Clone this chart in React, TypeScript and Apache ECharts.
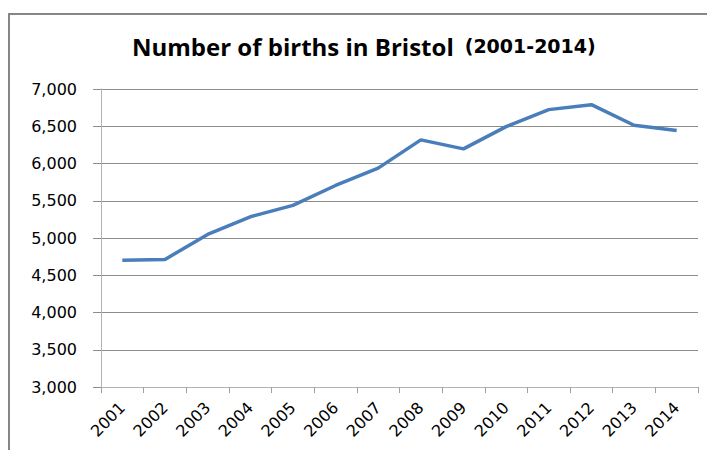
import React, { useEffect, useRef } from "react";
import * as echarts from "echarts";

const categories = ["2001", "2002", "2003", "2004", "2005", "2006", "2007", "2008", "2009", "2010", "2011", "2012", "2013", "2014"];
const births = [4700, 4712, 5048, 5285, 5438, 5705, 5938, 6317, 6196, 6495, 6723, 6790, 6513, 6442];
const yTicks = { min: 3000, max: 7000, interval: 500 };
const titleMain = "Number of births in Bristol";
const titleSub = "(2001-2014)";

export default function App() {
  const ref = useRef<HTMLDivElement>(null);
  useEffect(() => {
    if (!ref.current) return;
    const chart = echarts.init(ref.current, null, { renderer: "svg" });
    const font = "Open Sans";
    const labelFont = "DejaVu Sans";
    chart.setOption({
      animation: false,
      backgroundColor: "#ffffff",
      title: {
        text: `{a|${titleMain}} {b|${titleSub}}`,
        left: 127,
        top: 29,
        textStyle: {
          rich: {
            a: { fontFamily: font, fontWeight: "bold", fontSize: 24, color: "#000" },
            b: { fontFamily: labelFont, fontWeight: "bold", fontSize: 19, color: "#000", padding: [0, 0, 0, 6] },
          },
        },
      },
      graphic: [
        {
          type: "rect",
          shape: { x: 9, y: 14, width: 760, height: 500 },
          style: { fill: "none", stroke: "#868686", lineWidth: 2 },
          silent: true,
        },
      ],
      grid: { left: 101, right: 9, top: 89, bottom: 63, outerBoundsMode: "none" },
      xAxis: {
        type: "category",
        data: categories,
        boundaryGap: true,
        axisLine: { show: true, lineStyle: { color: "#b3b3b3", width: 1 } },
        axisTick: { show: true, length: 6, lineStyle: { color: "#a0a0a0" } },
        axisLabel: {
          rotate: 45,
          margin: 18,
          interval: 0,
          fontFamily: labelFont,
          fontSize: 16,
          color: "#000",
        },
        splitLine: { show: false },
      },
      yAxis: {
        type: "value",
        min: yTicks.min,
        max: yTicks.max,
        interval: yTicks.interval,
        axisLine: { show: true, lineStyle: { color: "#b3b3b3", width: 1 } },
        axisTick: { show: true, length: 8, lineStyle: { color: "#8c8c8c" } },
        axisLabel: {
          margin: 24,
          fontFamily: labelFont,
          fontSize: 16,
          color: "#000",
          formatter: (v: number) => v.toLocaleString("en-US"),
        },
        splitLine: { show: true, lineStyle: { color: "#8c8c8c", width: 1 } },
      },
      series: [
        {
          type: "line",
          data: births,
          showSymbol: false,
          symbol: "none",
          lineStyle: { color: "#4a7ebb", width: 3.5 },
        },
      ],
    });
    return () => chart.dispose();
  }, []);
  return (
    <div
      ref={ref}
      style={{ position: "fixed", left: 0, top: 0, width: 707, height: 450 }}
    />
  );
}
